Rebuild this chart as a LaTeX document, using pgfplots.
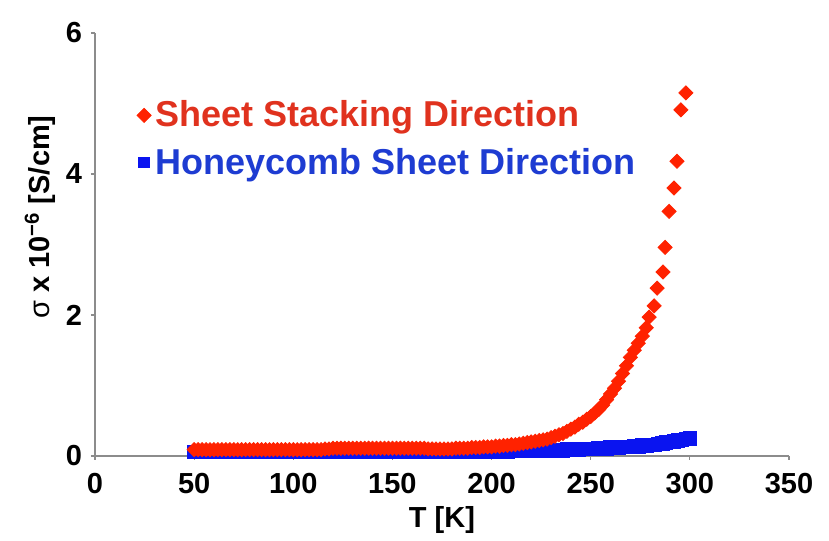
\documentclass[border=0pt]{standalone}
\usepackage{fontspec}
\setmainfont{Liberation Sans}
\usepackage{pgfplots}
\usepackage{pgfplotstable}
\pgfplotsset{compat=1.18}
\definecolor{redmk}{HTML}{FF2200}
\definecolor{redtx}{HTML}{E0321E}
\definecolor{bluemk}{HTML}{0A14F0}
\definecolor{bluetx}{HTML}{1E3CD2}
\definecolor{axgray}{HTML}{8C8C8C}

\pgfplotstableread{
T s
50 0.09
52 0.09
54 0.09
56 0.09
58 0.09
60 0.09
62 0.09
64 0.09
66 0.09
68 0.09
70 0.09
72 0.09
74 0.09
76 0.09
78 0.09
80 0.09
82 0.09
84 0.09
86 0.09
88 0.09
90 0.09
92 0.09
94 0.09
96 0.09
98 0.09
100 0.09
102 0.09
104 0.09
106 0.09
108 0.09
110 0.09
112 0.09
114 0.09
116 0.10
118 0.10
120 0.11
122 0.11
124 0.11
126 0.11
128 0.11
130 0.11
132 0.11
134 0.11
136 0.11
138 0.11
140 0.11
142 0.11
144 0.11
146 0.11
148 0.11
150 0.11
152 0.11
154 0.11
156 0.11
158 0.11
160 0.11
162 0.11
164 0.11
166 0.11
168 0.10
170 0.10
172 0.10
174 0.10
176 0.10
178 0.10
180 0.10
182 0.11
184 0.11
186 0.11
188 0.11
190 0.12
192 0.12
194 0.12
196 0.13
198 0.13
200 0.13
202 0.14
204 0.14
206 0.15
208 0.15
210 0.16
212 0.16
214 0.17
216 0.18
218 0.19
220 0.20
222 0.21
224 0.22
226 0.23
228 0.24
230 0.26
232 0.28
234 0.30
236 0.32
238 0.35
240 0.38
242 0.41
244 0.45
246 0.48
248 0.52
250 0.56
252 0.61
254 0.66
256 0.72
258 0.80
260 0.88
262 0.96
264 1.06
266 1.17
268 1.28
270 1.40
272 1.50
274 1.60
276 1.70
278 1.82
279.5 1.97
282 2.13
283.5 2.38
286.5 2.61
287.5 2.96
289.5 3.47
292 3.80
293.5 4.18
295.5 4.91
298 5.15
}\redtable

\pgfplotstableread{
T s
50 0.06
52 0.06
54 0.06
56 0.06
58 0.06
60 0.06
62 0.06
64 0.06
66 0.06
68 0.06
70 0.06
72 0.06
74 0.06
76 0.06
78 0.06
80 0.06
82 0.06
84 0.06
86 0.06
88 0.06
90 0.06
92 0.06
94 0.06
96 0.06
98 0.06
100 0.06
102 0.06
104 0.06
106 0.06
108 0.06
110 0.06
112 0.06
114 0.06
116 0.06
118 0.06
120 0.06
122 0.06
124 0.06
126 0.06
128 0.06
130 0.06
132 0.06
134 0.06
136 0.06
138 0.06
140 0.06
142 0.06
144 0.06
146 0.06
148 0.06
150 0.06
152 0.06
154 0.06
156 0.06
158 0.06
160 0.06
162 0.06
164 0.06
166 0.06
168 0.06
170 0.06
172 0.06
174 0.06
176 0.06
178 0.06
180 0.06
182 0.06
184 0.06
186 0.06
188 0.06
190 0.06
192 0.06
194 0.06
196 0.06
198 0.06
200 0.06
202 0.06
204 0.06
206 0.06
208 0.06
210 0.07
212 0.07
214 0.07
216 0.07
218 0.07
220 0.07
222 0.07
224 0.07
226 0.07
228 0.08
230 0.08
232 0.08
234 0.08
236 0.08
238 0.09
240 0.09
242 0.09
244 0.09
246 0.10
248 0.10
250 0.10
252 0.10
254 0.11
256 0.11
258 0.11
260 0.12
262 0.12
264 0.12
266 0.13
268 0.13
270 0.13
272 0.14
274 0.14
276 0.15
278 0.15
280 0.16
282 0.16
284 0.17
286 0.18
288 0.19
290 0.20
292 0.21
294 0.22
296 0.23
298 0.24
300 0.25
}\bluetable

\begin{document}
\begin{tikzpicture}
\begin{axis}[
  scale only axis,
  width=347pt, height=211.5pt,
  xmin=0, xmax=350, ymin=0, ymax=6,
  xtick={0,50,...,350}, ytick={0,2,4,6},
  axis lines=left,
  axis line style={-, axgray, line width=0.8pt},
  tick style={axgray, line width=0.6pt},
  tick align=outside,
  major tick length=2pt,
  /pgf/number format/assume math mode=true,
  ticklabel style={font=\bfseries\fontsize{14.5}{16}\selectfont},
  xticklabel style={anchor=center, yshift=-12pt},
  yticklabel style={anchor=east, xshift=-1pt},
  every axis x label/.style={at={(axis description cs:0.5,0)}, yshift=-32pt, anchor=center},
  every axis y label/.style={at={(axis description cs:0,0.565)}, xshift=-27.5pt, rotate=90, anchor=center},
  label style={font=\bfseries\fontsize{14.5}{16}\selectfont},
  xlabel={T [K]},
  ylabel={{\mdseries σ} x 10\textsuperscript{−6} [S/cm]},
  legend style={draw=none, fill=none, at={(axis description cs:0.06,0.85)}, anchor=north west,
    font=\bfseries\fontsize{18}{20}\selectfont, row sep=5pt, inner sep=0pt,
    /tikz/every even column/.append style={column sep=0pt}},
  legend cell align=left,
  legend image code/.code={\draw[mark repeat=2,mark phase=2,#1] plot coordinates {(0pt,0pt) (3.5pt,0pt) (8pt,0pt)};},
  reverse legend,
]
\addplot[only marks, mark=square*, mark size=3.4pt, color=bluemk, legend image post style={mark size=2.7pt}] table[x=T,y=s] {\bluetable};
\addlegendentry{\textcolor{bluetx}{Honeycomb Sheet Direction}}
\addplot[only marks, mark=square*, mark size=2.5pt, mark options={rotate=45}, color=redmk] table[x=T,y=s] {\redtable};
\addlegendentry{\textcolor{redtx}{Sheet Stacking Direction}}
\end{axis}
\path ([xshift=-47.5pt,yshift=-41pt]current axis.south west) rectangle ([xshift=20pt,yshift=16.5pt]current axis.north east);
\end{tikzpicture}
\end{document}
